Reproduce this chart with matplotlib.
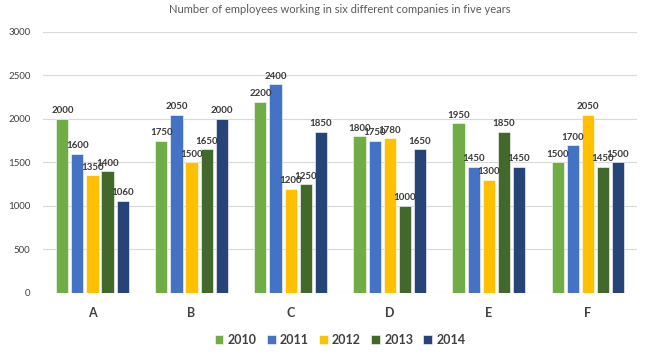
import matplotlib
matplotlib.use("Agg")
import matplotlib.pyplot as plt
import numpy as np

# データ
companies = ["A", "B", "C", "D", "E", "F"]
years = ["2010", "2011", "2012", "2013", "2014"]
v2010 = [2000, 1750, 2200, 1800, 1950, 1500]
v2011 = [1600, 2050, 2400, 1750, 1450, 1700]
v2012 = [1350, 1500, 1200, 1780, 1300, 2050]
v2013 = [1400, 1650, 1250, 1000, 1850, 1450]
v2014 = [1060, 2000, 1850, 1650, 1450, 1500]
colors = ["#70AD47", "#4472C4", "#FFC000", "#43682B", "#264478"]

plt.rcParams["font.family"] = ["Lato", "DejaVu Sans"]

fig = plt.figure(figsize=(6.61, 3.55), dpi=100)
ax = fig.add_axes([0.065, 0.175, 0.899, 0.735])

x = np.arange(len(companies))
series = [v2010, v2011, v2012, v2013, v2014]
step = 0.152
width = 0.122
for i, (vals, c, yr) in enumerate(zip(series, colors, years)):
    pos = x + (i - 2) * step
    ax.bar(pos, vals, width, color=c, label=yr, edgecolor="white", linewidth=0.4, zorder=3)
    for p, v in zip(pos, vals):
        ax.text(p, v + 40, str(v), ha="center", va="bottom", fontsize=7,
                fontweight="bold", color="#3a3a3a", zorder=4)

ax.set_xlim(-0.5, 5.5)
ax.set_ylim(0, 3000)
ax.set_yticks(range(0, 3001, 500))
ax.set_xticks(x)
ax.set_xticklabels(companies, fontsize=9, fontweight="bold", color="#404040")
ax.tick_params(axis="y", labelsize=7, colors="#404040", length=0, pad=9)
ax.tick_params(axis="x", length=0, pad=10)
ax.grid(axis="y", color="#d9d9d9", linewidth=0.8, zorder=0)
for s in ax.spines.values():
    s.set_visible(False)

ax.set_title("Number of employees working in six different companies in five years",
             fontsize=8, color="#595959", pad=14)

leg = ax.legend(loc="upper center", bbox_to_anchor=(0.5, -0.115), ncol=5, frameon=False,
                prop={"size": 9, "weight": "bold"}, handlelength=0.7, handleheight=0.7,
                handletextpad=0.35, columnspacing=0.8)
for t in leg.get_texts():
    t.set_color("#404040")

fig.savefig("out.png", dpi=100)
